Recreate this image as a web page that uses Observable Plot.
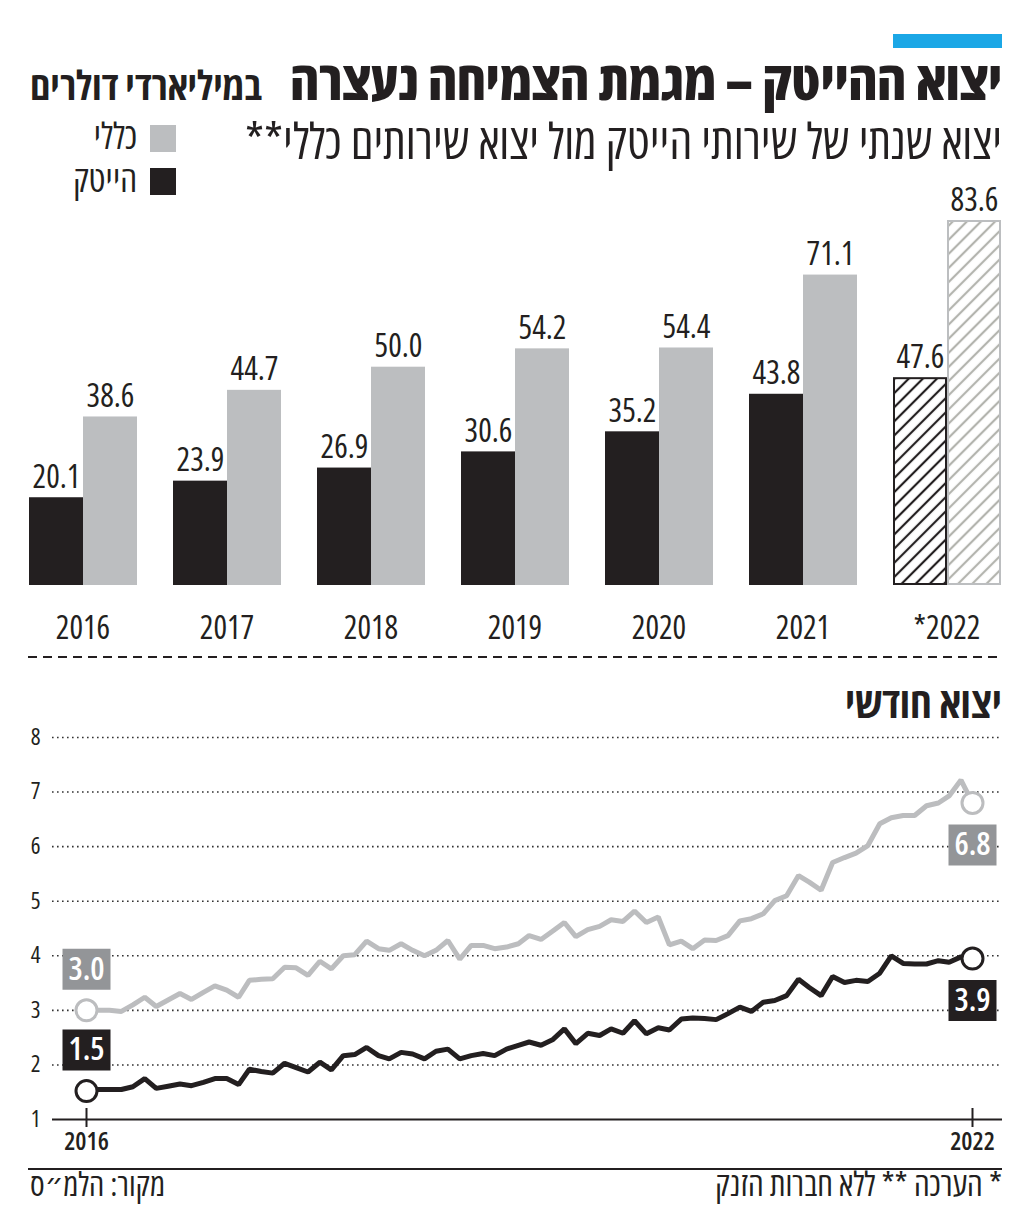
<!DOCTYPE html>
<html><head><meta charset="utf-8">
<script src="https://cdn.jsdelivr.net/npm/d3@7"></script>
<script src="https://cdn.jsdelivr.net/npm/@observablehq/plot@0.6"></script>
<style>
body{margin:0;background:#fff;}
#root{position:relative;width:1024px;height:1211px;overflow:hidden;font-family:'Open Sans','DejaVu Sans Condensed',sans-serif;font-stretch:87.5%;color:#231f20;}
.abs{position:absolute;white-space:nowrap;line-height:1;}
.rtl{direction:rtl;}
</style></head><body><div id="root"></div>
<script>
// ---------- data ----------
const years = ["2016","2017","2018","2019","2020","2021","2022"];
const yearLabels = ["2016","2017","2018","2019","2020","2021","*2022"];
const estimated = [false,false,false,false,false,false,true];
const hitechAnnual = [20.1, 23.9, 26.9, 30.6, 35.2, 43.8, 47.6];
const generalAnnual = [38.6, 44.7, 50.0, 54.2, 54.4, 71.1, 83.6];

const seriesKeys = ["hitech","general"];
const seriesNames = {hitech:"הייטק", general:"כללי"};
const legendOrder = ["general","hitech"];

const generalMonthly = [3.0,3.0,3.0,2.98,3.1,3.24,3.07,3.19,3.31,3.2,3.33,3.45,3.37,3.24,3.55,3.57,3.58,3.79,3.78,3.64,3.9,3.76,4.0,4.02,4.27,4.13,4.1,4.22,4.1,4.0,4.1,4.28,3.94,4.19,4.19,4.13,4.16,4.22,4.37,4.3,4.45,4.61,4.35,4.48,4.54,4.66,4.63,4.82,4.61,4.71,4.2,4.27,4.13,4.29,4.28,4.37,4.64,4.68,4.77,5.01,5.1,5.47,5.35,5.2,5.71,5.8,5.88,6.02,6.42,6.53,6.57,6.57,6.75,6.8,6.93,7.22,6.8];
const hitechMonthly = [1.52,1.55,1.55,1.55,1.6,1.75,1.57,1.61,1.65,1.62,1.68,1.75,1.75,1.64,1.92,1.88,1.85,2.03,1.95,1.87,2.05,1.91,2.17,2.19,2.32,2.17,2.11,2.23,2.2,2.11,2.25,2.29,2.11,2.17,2.21,2.17,2.29,2.36,2.42,2.36,2.46,2.66,2.39,2.58,2.54,2.66,2.58,2.81,2.57,2.68,2.64,2.84,2.86,2.85,2.83,2.94,3.06,2.98,3.15,3.18,3.27,3.57,3.42,3.27,3.62,3.51,3.55,3.53,3.68,4.0,3.86,3.85,3.85,3.91,3.88,3.98,3.95];
const startLabels = {general:"3.0", hitech:"1.5"};
const endLabels = {general:"6.8", hitech:"3.9"};
const yTicks = [1,2,3,4,5,6,7,8];

const titleMain = "יצוא ההייטק – מגמת הצמיחה נעצרה";
const titleUnit = "במיליארדי דולרים";
const subtitle = "יצוא שנתי של שירותי הייטק מול יצוא שירותים כללי**";
const monthlyTitle = "יצוא חודשי";
const footNote = "* הערכה ** ללא חברות הזנק";
const source = "מקור: הלמ״ס";

// ---------- styles ----------
const FONT = "'Open Sans','DejaVu Sans Condensed',sans-serif";
const STRETCH = "87.5%";
const barColors = {hitech:"#231f20", general:"#bcbec0"};
const hatchColors = {hitech:"#231f20", general:"#b3b4ae"};
const lineColors = {hitech:"#231f20", general:"#bcbdbf"};
const boxColors = {hitech:"#231f20", general:"#939598"};
const INK = "#231f20";
// rectangular label box drawn as a custom dot symbol
const boxSymbol = {draw(ctx){ ctx.rect(-24, -20.5, 48, 41); }};

const root = document.getElementById("root");
function el(html){ const t=document.createElement("template"); t.innerHTML=html.trim(); const n=t.content.firstChild; root.appendChild(n); return n; }

// place an RTL text by its baseline, optionally fitting to a width
function placeText({text, right, left, baseline, size, weight=400, stretch=STRETCH, width}){
  const d = document.createElement("div");
  d.className = "abs rtl";
  d.style.fontSize = size+"px"; d.style.fontWeight = weight; d.style.fontStretch = stretch;
  if (right!=null) d.style.right = (1024-right)+"px"; else d.style.left = left+"px";
  d.style.top = "0px";
  d.style.lineHeight = "0.62";
  d.textContent = text;
  const mark = document.createElement("span");
  mark.style.cssText = "display:inline-block;width:0;height:0;";
  d.appendChild(mark);
  root.appendChild(d);
  if (width){ const w = d.getBoundingClientRect().width; size = size*width/w; d.style.fontSize = size+"px"; }
  const rt = root.getBoundingClientRect().top;
  const m = mark.getBoundingClientRect().top - rt;
  d.style.top = (baseline - m)+"px";
  return d;
}

// ---------- header ----------
el(`<div class="abs" style="left:893px;top:34px;width:109px;height:14px;background:#1ba7e6"></div>`);
placeText({text:titleMain, right:1002, baseline:100, size:46, weight:800, width:712});
placeText({text:titleUnit, right:262, baseline:100, size:28, weight:700, width:232});
placeText({text:subtitle, right:1002, baseline:159, size:40, weight:400, width:757});
legendOrder.forEach((k,i)=>{
  const top = 125 + i*43;
  el(`<div class="abs" style="left:150px;top:${top}px;width:26px;height:27px;background:${barColors[k]}"></div>`);
  placeText({text:seriesNames[k], right:137, baseline: top+24, size:36});
});

// ---------- annual bar chart ----------
const annual = years.flatMap((y,i)=>seriesKeys.map(k=>({
  year: yearLabels[i], series: k, value: k==="hitech"?hitechAnnual[i]:generalAnnual[i], est: estimated[i]
})));
const barMarks = [];
seriesKeys.forEach(k=>{
  barMarks.push(Plot.barY(annual.filter(d=>d.series===k && !d.est), {fx:"year", x:"series", y:"value", fill: barColors[k]}));
  barMarks.push(Plot.barY(annual.filter(d=>d.series===k && d.est), {fx:"year", x:"series", y:"value", fill:`url(#hatch-${k})`, stroke: barColors[k], strokeWidth: 2, inset: 1}));
});
const barSvg = Plot.plot({
  width: 1024, height: 460,
  marginTop: 30, marginBottom: 65, marginLeft: 28, marginRight: 22,
  style: {fontFamily: FONT, fontStretch: STRETCH, color: INK, background: "transparent", overflow: "visible"},
  fx: {domain: yearLabels, paddingInner: 0.243, paddingOuter: 0, axis: null, label: null},
  x: {domain: seriesKeys, padding: 0, axis: null},
  y: {domain: [0, d3.max(generalAnnual)], axis: null},
  marks: [
    ...barMarks,
    Plot.text(annual, {fx:"year", x:"series", y:"value", text: d=>d.value.toFixed(1), dy:-10, lineAnchor:"bottom", fontSize: 32, fontWeight: 500, fill: INK}),
    Plot.text(yearLabels, {fx: d=>d, text: d=>d, frameAnchor:"bottom", lineAnchor:"bottom", dy: 53, fontSize: 32, fill: INK})
  ]
});
const defs = d3.select(barSvg).insert("defs", ":first-child");
seriesKeys.forEach(k=>{
  const p = defs.append("pattern").attr("id", `hatch-${k}`).attr("patternUnits","userSpaceOnUse")
    .attr("width",10).attr("height",10).attr("patternTransform","rotate(45)");
  p.append("rect").attr("width",10).attr("height",10).attr("fill","white");
  p.append("line").attr("x1",5).attr("y1",-1).attr("x2",5).attr("y2",11).attr("stroke",hatchColors[k]).attr("stroke-width",2.2);
});
const barWrap = el(`<div class="abs" style="left:0;top:190px;"></div>`);
barWrap.appendChild(barSvg);

// dashed separator
el(`<svg class="abs" style="left:0;top:650px" width="1024" height="14"><line x1="28" x2="1002" y1="7" y2="7" stroke="${INK}" stroke-width="2" stroke-dasharray="9,6"/></svg>`);

placeText({text:monthlyTitle, right:1002, baseline:718, size:40, weight:700, width:157});

// ---------- monthly line chart ----------
const months = d3.range(hitechMonthly.length).map(i=>new Date(Date.UTC(2016, i, 1)));
const monthly = months.flatMap((date,i)=>[
  {date, series:"general", value: generalMonthly[i]},
  {date, series:"hitech", value: hitechMonthly[i]}
]);
const xTicks = [months[0], months[months.length-1]];
const lineMarks = [], dotMarks = [], boxMarks = [];
["general","hitech"].forEach(k=>{
  const s = monthly.filter(d=>d.series===k);
  lineMarks.push(Plot.line(s, {x:"date", y:"value", stroke: lineColors[k], strokeWidth: 5, strokeLinejoin:"miter"}));
  const first = s[0], last = s[s.length-1];
  dotMarks.push(Plot.dot([first, last], {x:"date", y:"value", r: 10.5, fill:"white", stroke: lineColors[k], strokeWidth: 3}));
  boxMarks.push(Plot.dot([first], {x:"date", y:"value", symbol: boxSymbol, r: 20, fill: boxColors[k], stroke: "none", dy: -41}));
  boxMarks.push(Plot.dot([last], {x:"date", y:"value", symbol: boxSymbol, r: 20, fill: boxColors[k], stroke: "none", dy: 42}));
  boxMarks.push(Plot.text([first], {x:"date", y:"value", text: ()=>startLabels[k], dy:-41, lineAnchor:"middle", fontSize: 32, fontWeight: 600, fill:"white"}));
  boxMarks.push(Plot.text([last], {x:"date", y:"value", text: ()=>endLabels[k], dy:42, lineAnchor:"middle", fontSize: 32, fontWeight: 600, fill:"white"}));
});
const lineSvg = Plot.plot({
  width: 1024, height: 440,
  marginTop: 17, marginBottom: 41, marginLeft: 86, marginRight: 52,
  style: {fontFamily: FONT, fontStretch: STRETCH, color: INK, background: "transparent", overflow: "visible"},
  x: {type:"utc", domain: xTicks, label: null},
  y: {domain: [1, 8], label: null},
  marks: [
    Plot.gridY(yTicks.slice(1), {stroke: "#333", strokeOpacity: 1, strokeWidth: 1.6, strokeDasharray: "1.6,3.4", insetLeft: -34, insetRight: -30}),
    Plot.ruleY([yTicks[0]], {stroke: INK, strokeWidth: 2, insetLeft: -34, insetRight: -30}),
    Plot.axisY(yTicks, {tickSize: 0, tickPadding: 46, fontSize: 23, tickFormat: d=>String(d), label: null}),
    Plot.axisX(xTicks, {tickSize: 19, dy: -11, tickFormat: ()=>"", strokeWidth: 2, label: null}),
    Plot.axisX(xTicks, {tickSize: 0, tickPadding: 13, fontSize: 25, fontWeight: 600, tickFormat: d=>String(d.getUTCFullYear()), label: null}),
    ...lineMarks,
    ...dotMarks,
    ...boxMarks
  ]
});
const lineWrap = el(`<div class="abs" style="left:0;top:720px;"></div>`);
lineWrap.appendChild(lineSvg);

// ---------- footer ----------
el(`<div class="abs" style="left:28px;top:1168px;width:974px;height:2px;background:${INK}"></div>`);
placeText({text:footNote, right:1002, baseline:1196, size:26, width:287});
placeText({text:source, left:30, baseline:1196, size:26, width:135});
</script>
</body></html>
